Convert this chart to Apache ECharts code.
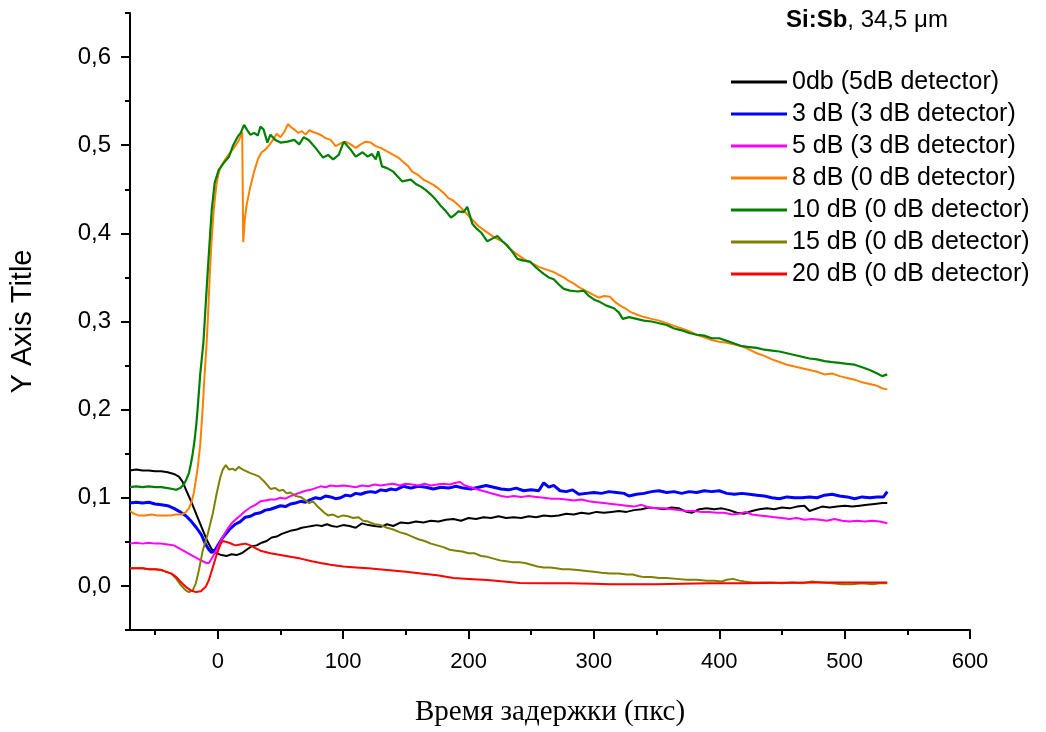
<!DOCTYPE html>
<html>
<head>
<meta charset="utf-8">
<script src="https://cdn.jsdelivr.net/npm/echarts@6/dist/echarts.min.js"></script>
<style>
  html, body { margin: 0; padding: 0; background: #fff; }
  #main { width: 1046px; height: 732px; }
</style>
</head>
<body>
<div id="main"></div>
<script>
// legend names
var seriesNames = ['0db (5dB detector)', '3 dB (3 dB detector)', '5 dB (3 dB detector)', '8 dB (0 dB detector)',
  '10 dB (0 dB detector)', '15 dB (0 dB detector)', '20 dB (0 dB detector)'];

// tick values
var xMajorTicks = [0, 100, 200, 300, 400, 500, 600];
var xMinorTicks = [-50, 50, 150, 250, 350, 450, 550];
var yMajorTicks = [0, 0.1, 0.2, 0.3, 0.4, 0.5, 0.6];
var yMinorTicks = [-0.05, 0.05, 0.15, 0.25, 0.35, 0.45, 0.55, 0.65];

// [delay, signal]
var black = [[-70,0.131],[-65,0.132],[-60,0.131],[-55,0.131],[-50,0.130],[-45,0.130],[-40,0.129],[-35,0.127],[-31,0.124],[-28,0.118],[-25,0.108],[-21,0.095],[-17,0.081],[-13,0.067],[-9,0.053],[-5,0.042],[-1,0.037],[3,0.035],[7,0.034],[11,0.036],[15,0.035],[19,0.037],[23,0.041],[27,0.045],[31,0.046],[35,0.049],[39,0.051],[43,0.055],[47,0.056],[51,0.059],[55,0.061],[59,0.063],[63,0.064],[67,0.066],[71,0.067],[75,0.068],[79,0.069],[83,0.068],[87,0.070],[91,0.068],[95,0.067],[100,0.069],[105,0.068],[110,0.066],[115,0.071],[120,0.069],[125,0.068],[130,0.067],[135,0.070],[140,0.068],[146,0.072],[152,0.071],[158,0.073],[164,0.072],[170,0.074],[176,0.073],[182,0.075],[188,0.076],[194,0.074],[200,0.077],[206,0.076],[212,0.078],[218,0.077],[224,0.079],[230,0.077],[236,0.078],[242,0.077],[248,0.079],[254,0.078],[260,0.080],[266,0.079],[272,0.080],[278,0.082],[284,0.081],[290,0.083],[296,0.082],[302,0.084],[308,0.083],[314,0.084],[320,0.085],[326,0.084],[332,0.086],[338,0.087],[344,0.089],[350,0.088],[356,0.087],[362,0.089],[368,0.088],[374,0.084],[378,0.083],[384,0.087],[390,0.088],[396,0.087],[402,0.088],[408,0.086],[414,0.083],[420,0.082],[426,0.085],[432,0.087],[438,0.088],[444,0.087],[450,0.089],[456,0.088],[462,0.090],[468,0.091],[472,0.085],[476,0.087],[482,0.090],[488,0.089],[494,0.090],[500,0.091],[506,0.090],[512,0.091],[518,0.092],[524,0.093],[530,0.094],[534,0.094]];

var blue = [[-70,0.094],[-65,0.095],[-60,0.094],[-55,0.095],[-50,0.093],[-45,0.092],[-40,0.091],[-35,0.088],[-30,0.084],[-25,0.079],[-21,0.073],[-17,0.066],[-13,0.058],[-10,0.048],[-7,0.041],[-5,0.038],[-2,0.041],[1,0.048],[4,0.055],[7,0.060],[10,0.065],[14,0.070],[18,0.073],[22,0.078],[26,0.079],[30,0.082],[34,0.083],[38,0.086],[42,0.087],[46,0.089],[50,0.091],[54,0.090],[58,0.093],[62,0.094],[66,0.096],[70,0.095],[74,0.098],[78,0.100],[82,0.099],[86,0.102],[90,0.101],[94,0.099],[98,0.100],[102,0.103],[106,0.102],[110,0.105],[114,0.104],[118,0.106],[122,0.107],[126,0.106],[130,0.109],[134,0.108],[138,0.110],[142,0.109],[148,0.113],[154,0.111],[160,0.113],[166,0.112],[172,0.110],[178,0.112],[184,0.111],[190,0.113],[196,0.111],[202,0.110],[208,0.112],[214,0.114],[220,0.112],[226,0.110],[232,0.109],[238,0.111],[244,0.108],[250,0.109],[256,0.108],[260,0.117],[264,0.112],[268,0.114],[273,0.108],[278,0.107],[283,0.109],[288,0.104],[294,0.105],[300,0.106],[306,0.105],[312,0.107],[318,0.106],[324,0.105],[328,0.102],[334,0.104],[340,0.105],[346,0.107],[352,0.108],[358,0.106],[364,0.107],[370,0.105],[376,0.107],[382,0.106],[388,0.108],[394,0.107],[400,0.108],[406,0.105],[412,0.104],[418,0.105],[424,0.104],[430,0.103],[436,0.102],[442,0.100],[448,0.099],[454,0.101],[460,0.100],[466,0.100],[472,0.101],[478,0.100],[484,0.103],[490,0.104],[496,0.102],[502,0.101],[508,0.099],[514,0.101],[520,0.100],[526,0.101],[531,0.101],[534,0.107]];

var magenta = [[-70,0.048],[-65,0.049],[-60,0.048],[-55,0.049],[-50,0.048],[-45,0.048],[-40,0.047],[-35,0.046],[-30,0.042],[-25,0.038],[-20,0.034],[-16,0.031],[-12,0.028],[-9,0.026],[-7,0.026],[-4,0.033],[-1,0.041],[2,0.050],[5,0.058],[8,0.065],[11,0.071],[14,0.075],[18,0.080],[22,0.085],[26,0.089],[30,0.092],[34,0.096],[38,0.097],[42,0.098],[46,0.098],[50,0.100],[54,0.099],[58,0.102],[62,0.104],[66,0.106],[70,0.108],[74,0.109],[78,0.111],[82,0.113],[86,0.112],[90,0.114],[95,0.113],[100,0.114],[105,0.113],[110,0.112],[115,0.114],[120,0.113],[125,0.115],[130,0.114],[135,0.115],[140,0.116],[145,0.114],[150,0.116],[155,0.115],[160,0.114],[165,0.116],[170,0.114],[175,0.115],[180,0.116],[185,0.115],[190,0.117],[193,0.118],[197,0.114],[202,0.112],[206,0.110],[211,0.108],[216,0.106],[221,0.104],[226,0.102],[231,0.101],[236,0.102],[242,0.101],[248,0.102],[254,0.101],[260,0.100],[266,0.099],[272,0.099],[278,0.098],[284,0.097],[290,0.098],[296,0.096],[302,0.095],[308,0.094],[314,0.093],[320,0.092],[326,0.091],[332,0.090],[338,0.092],[344,0.089],[350,0.088],[356,0.088],[362,0.087],[368,0.086],[374,0.085],[380,0.085],[386,0.084],[392,0.084],[398,0.083],[404,0.083],[410,0.081],[416,0.082],[421,0.084],[426,0.081],[432,0.080],[438,0.079],[444,0.078],[450,0.077],[456,0.076],[462,0.077],[468,0.075],[474,0.076],[480,0.075],[486,0.074],[492,0.076],[498,0.074],[504,0.073],[510,0.074],[516,0.073],[522,0.074],[528,0.073],[534,0.071]];

var orange = [[-70,0.085],[-67,0.082],[-63,0.080],[-58,0.080],[-53,0.081],[-48,0.080],[-43,0.080],[-38,0.080],[-33,0.081],[-29,0.081],[-26,0.083],[-23,0.088],[-21,0.095],[-19,0.106],[-17.5,0.120],[-16,0.134],[-14,0.160],[-12,0.202],[-10.5,0.240],[-8.8,0.277],[-7.5,0.315],[-6.4,0.352],[-5,0.390],[-3.2,0.427],[-1,0.456],[1,0.470],[3,0.477],[6,0.484],[10,0.492],[14,0.499],[17,0.506],[19.5,0.515],[20.3,0.390],[21.5,0.415],[23,0.432],[26,0.453],[29,0.470],[32,0.484],[35,0.492],[38,0.495],[41,0.500],[44,0.506],[47,0.513],[50,0.509],[53,0.515],[56,0.524],[58,0.521],[61,0.518],[64,0.514],[67,0.516],[70,0.512],[73,0.517],[76,0.515],[80,0.513],[83,0.511],[86,0.508],[90,0.506],[94,0.499],[98,0.502],[102,0.504],[106,0.501],[110,0.497],[114,0.501],[118,0.504],[122,0.503],[126,0.499],[130,0.497],[135,0.493],[140,0.489],[144,0.486],[148,0.481],[152,0.476],[155,0.470],[160,0.466],[164,0.461],[168,0.458],[172,0.455],[176,0.451],[180,0.446],[184,0.440],[188,0.437],[192,0.432],[196,0.426],[200,0.420],[204,0.414],[208,0.408],[212,0.404],[216,0.400],[220,0.396],[224,0.393],[228,0.390],[232,0.384],[236,0.379],[240,0.375],[244,0.371],[248,0.368],[252,0.365],[256,0.362],[260,0.360],[264,0.358],[268,0.356],[272,0.353],[276,0.350],[280,0.346],[284,0.343],[288,0.339],[292,0.336],[296,0.333],[300,0.330],[304,0.327],[308,0.329],[313,0.328],[317,0.322],[321,0.318],[325,0.315],[329,0.311],[334,0.308],[340,0.305],[346,0.303],[352,0.301],[358,0.298],[364,0.295],[370,0.292],[376,0.289],[382,0.285],[388,0.282],[394,0.279],[400,0.277],[406,0.276],[412,0.274],[418,0.272],[424,0.268],[430,0.264],[436,0.261],[442,0.257],[448,0.254],[454,0.251],[460,0.249],[466,0.247],[472,0.245],[478,0.243],[484,0.240],[490,0.241],[496,0.238],[502,0.236],[508,0.234],[514,0.231],[520,0.229],[526,0.227],[530,0.224],[534,0.223]];

var green = [[-70,0.112],[-65,0.113],[-60,0.112],[-55,0.113],[-50,0.112],[-45,0.112],[-40,0.111],[-36,0.110],[-33,0.109],[-30,0.111],[-27,0.115],[-25,0.121],[-23,0.128],[-21.5,0.138],[-20,0.150],[-18.5,0.165],[-17,0.185],[-16,0.202],[-14,0.240],[-11.4,0.277],[-9.8,0.315],[-8.2,0.352],[-6.5,0.390],[-4.8,0.427],[-2.4,0.458],[0.8,0.472],[4.8,0.480],[9,0.487],[12,0.499],[16,0.510],[18.3,0.514],[21,0.523],[24,0.516],[26,0.512],[29,0.514],[32,0.511],[34,0.521],[36.5,0.518],[39.6,0.503],[42,0.512],[46,0.506],[50,0.503],[55.6,0.504],[61,0.506],[65,0.501],[68.5,0.509],[72.5,0.506],[78,0.497],[84,0.486],[88,0.489],[92,0.484],[96.5,0.489],[100.5,0.504],[106,0.495],[110,0.487],[115.5,0.492],[119.5,0.487],[123,0.490],[126,0.484],[128,0.493],[131,0.476],[135,0.474],[140,0.470],[147,0.459],[154,0.461],[158,0.456],[162,0.453],[166,0.449],[170,0.444],[174,0.438],[178,0.431],[182,0.425],[186,0.418],[189,0.421],[192,0.425],[196,0.424],[199,0.430],[203,0.411],[206,0.406],[210,0.401],[215,0.391],[219,0.394],[223,0.397],[227,0.391],[231,0.386],[235,0.379],[239,0.371],[244,0.369],[249,0.368],[254,0.361],[260,0.354],[264,0.350],[268,0.348],[272,0.342],[276,0.337],[281,0.335],[287,0.334],[292,0.335],[296,0.329],[300,0.325],[305,0.322],[310,0.318],[316,0.315],[320,0.310],[323,0.303],[328,0.305],[334,0.303],[340,0.301],[346,0.300],[352,0.298],[358,0.296],[364,0.292],[370,0.290],[376,0.287],[382,0.285],[388,0.284],[394,0.281],[400,0.281],[406,0.278],[412,0.275],[418,0.272],[424,0.271],[430,0.270],[436,0.268],[442,0.267],[448,0.266],[454,0.264],[460,0.262],[466,0.260],[472,0.258],[478,0.257],[484,0.255],[490,0.254],[496,0.253],[502,0.252],[508,0.251],[514,0.248],[520,0.245],[526,0.241],[530,0.238],[534,0.240]];

var olive = [[-70,0.020],[-65,0.020],[-60,0.020],[-55,0.019],[-50,0.019],[-45,0.018],[-41,0.016],[-37,0.014],[-33,0.008],[-29.5,0.001],[-25.5,-0.005],[-23,-0.007],[-20,-0.005],[-17.5,0.003],[-15,0.018],[-12,0.040],[-8,0.059],[-4,0.082],[-1,0.104],[2,0.123],[4,0.132],[6.4,0.137],[9,0.132],[12,0.133],[14,0.131],[16.7,0.135],[20,0.132],[23,0.130],[26,0.128],[30,0.126],[33,0.124],[38,0.117],[42,0.110],[46,0.111],[49,0.108],[52,0.109],[55,0.105],[58,0.106],[62,0.102],[66,0.101],[70,0.097],[73,0.094],[76,0.096],[79,0.091],[82,0.087],[85,0.083],[88,0.080],[92,0.081],[96,0.078],[100,0.080],[104,0.079],[108,0.077],[112,0.078],[116,0.074],[120,0.073],[125,0.070],[130,0.069],[135,0.066],[140,0.064],[145,0.061],[150,0.059],[155,0.056],[160,0.053],[165,0.051],[170,0.048],[175,0.046],[180,0.044],[185,0.041],[190,0.040],[195,0.039],[200,0.037],[205,0.037],[210,0.034],[215,0.033],[220,0.031],[225,0.029],[230,0.028],[235,0.027],[240,0.027],[245,0.026],[250,0.024],[255,0.022],[260,0.021],[265,0.021],[270,0.020],[275,0.019],[280,0.019],[287,0.018],[294,0.017],[300,0.016],[306,0.015],[313,0.014],[320,0.014],[326,0.013],[331,0.013],[336,0.011],[340,0.010],[346,0.010],[352,0.009],[358,0.009],[366,0.008],[374,0.007],[382,0.007],[390,0.006],[396,0.006],[402,0.005],[406,0.007],[411,0.008],[416,0.006],[420,0.005],[426,0.004],[434,0.004],[442,0.004],[450,0.003],[458,0.004],[466,0.003],[474,0.005],[482,0.004],[490,0.003],[498,0.002],[506,0.002],[514,0.003],[522,0.002],[528,0.003],[534,0.003]];

var red = [[-70,0.020],[-65,0.020],[-60,0.020],[-55,0.019],[-50,0.019],[-45,0.018],[-41,0.016],[-37,0.014],[-33,0.010],[-29.5,0.0045],[-25.5,-0.001],[-21.5,-0.005],[-17.5,-0.007],[-13.5,-0.006],[-9.6,-0.001],[-7,0.007],[-4,0.021],[-0.8,0.036],[2.4,0.048],[4,0.051],[9,0.049],[14,0.046],[18,0.047],[22,0.048],[26,0.046],[30,0.043],[34,0.040],[42,0.037],[50,0.035],[58,0.033],[66,0.031],[75,0.028],[82,0.026],[90,0.024],[100,0.022],[110,0.021],[120,0.020],[135,0.018],[150,0.016],[162,0.014],[175,0.012],[188,0.009],[200,0.008],[215,0.0066],[228,0.005],[241,0.0034],[260,0.003],[280,0.003],[300,0.0025],[313,0.002],[330,0.002],[350,0.002],[370,0.0025],[393,0.003],[420,0.003],[450,0.0035],[480,0.004],[510,0.004],[534,0.004]];

var seriesData = [black, blue, magenta, orange, green, olive, red];
var colors = ['#000000', '#0000ff', '#ff00ff', '#ff8000', '#008000', '#808000', '#ff0000'];
var widths = [2, 3, 2, 2, 2.2, 2, 2];

var font = 'Arial, "Liberation Sans", sans-serif';

var myChart = echarts.init(document.getElementById('main'), null, { renderer: 'canvas' });

var series = seriesData.map(function (d, i) {
    return {
        name: seriesNames[i],
        type: 'line',
        data: d,
        xAxisIndex: 0,
        yAxisIndex: 0,
        symbol: 'none',
        showSymbol: false,
        color: colors[i],
        lineStyle: { width: widths[i], color: colors[i] }
    };
});

var option = {
    animation: false,
    backgroundColor: '#ffffff',
    title: {
        text: '{b|Si:Sb}, 34,5 μm',
        left: 781,
        top: 3,
        textStyle: {
            fontFamily: font,
            fontSize: 24,
            fontWeight: 'normal',
            color: '#000',
            rich: { b: { fontFamily: font, fontSize: 24, fontWeight: 'bold', color: '#000' } }
        }
    },
    legend: {
        orient: 'vertical',
        left: 726,
        top: 64,
        icon: 'rect',
        itemWidth: 56,
        itemHeight: 3,
        itemGap: 6,
        data: seriesNames,
        textStyle: { fontFamily: font, fontSize: 25, color: '#000', lineHeight: 26 }
    },
    grid: { left: 130, right: 76, top: 13, bottom: 99 },
    xAxis: [{
        type: 'value',
        min: -70,
        max: 600,
        position: 'bottom',
        name: 'Время задержки (пкс)',
        nameLocation: 'middle',
        nameGap: 68,
        nameTextStyle: { fontFamily: '"Liberation Serif", "Times New Roman", serif', fontSize: 29, color: '#000' },
        axisLine: { show: true, onZero: false, lineStyle: { color: '#000', width: 2 } },
        axisTick: { show: true, customValues: xMajorTicks, length: 9, lineStyle: { color: '#000', width: 2 } },
        axisLabel: { customValues: xMajorTicks, margin: 21, fontFamily: font, fontSize: 22, color: '#000' },
        splitLine: { show: false }
    }, {
        type: 'value',
        min: -70,
        max: 600,
        position: 'bottom',
        axisLine: { show: false, onZero: false },
        axisTick: { show: true, customValues: xMinorTicks, length: 5, lineStyle: { color: '#000', width: 2 } },
        axisLabel: { show: false },
        splitLine: { show: false }
    }],
    yAxis: [{
        type: 'value',
        min: -0.05,
        max: 0.65,
        position: 'left',
        name: 'Y Axis Title',
        nameLocation: 'middle',
        nameGap: 93,
        nameTextStyle: { fontFamily: font, fontSize: 29, color: '#000' },
        axisLine: { show: true, onZero: false, lineStyle: { color: '#000', width: 2 } },
        axisTick: { show: true, customValues: yMajorTicks, length: 9, lineStyle: { color: '#000', width: 2 } },
        axisLabel: {
            customValues: yMajorTicks,
            margin: 19,
            fontFamily: font,
            fontSize: 24,
            color: '#000',
            formatter: function (v) { return v.toFixed(1).replace('.', ','); }
        },
        splitLine: { show: false }
    }, {
        type: 'value',
        min: -0.05,
        max: 0.65,
        position: 'left',
        axisLine: { show: false, onZero: false },
        axisTick: { show: true, customValues: yMinorTicks, length: 5, lineStyle: { color: '#000', width: 2 } },
        axisLabel: { show: false },
        splitLine: { show: false }
    }],
    series: series
};
myChart.setOption(option);
</script>
</body>
</html>
